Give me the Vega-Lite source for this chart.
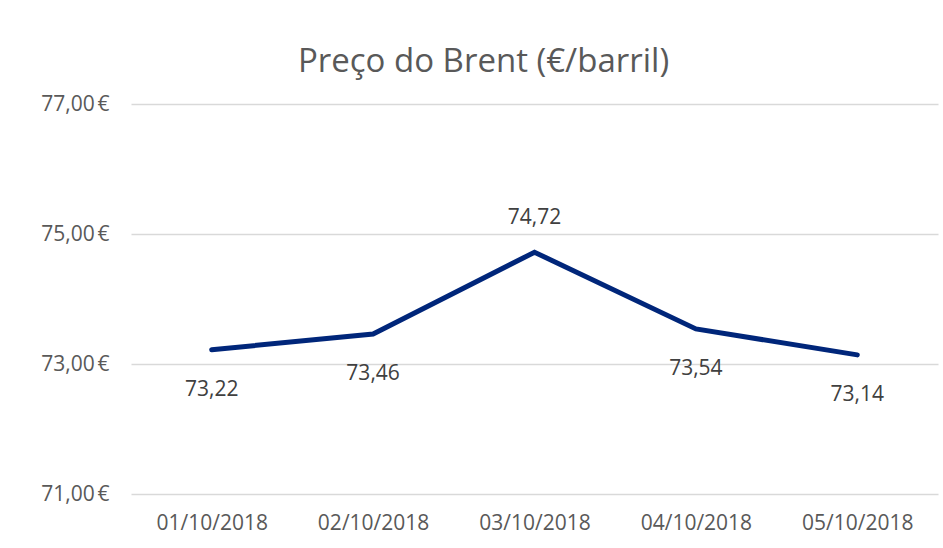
{
  "$schema": "https://vega.github.io/schema/vega-lite/v6.json",
  "autosize": "none",
  "width": 807,
  "height": 390,
  "padding": {"left": 131, "top": 104, "right": 5, "bottom": 54},
  "background": "white",
  "title": {
    "text": "Preço do Brent (€/barril)",
    "font": "Open Sans",
    "fontSize": 33,
    "fontWeight": "normal",
    "color": "#595959",
    "anchor": "middle",
    "dx": -51,
    "offset": 14
  },
  "data": {
    "values": [
      {"data": "01/10/2018", "preco": 73.22, "pos": "below"},
      {"data": "02/10/2018", "preco": 73.46, "pos": "below"},
      {"data": "03/10/2018", "preco": 74.72, "pos": "above"},
      {"data": "04/10/2018", "preco": 73.54, "pos": "below"},
      {"data": "05/10/2018", "preco": 73.14, "pos": "below"}
    ]
  },
  "encoding": {
    "x": {
      "field": "data",
      "type": "ordinal",
      "sort": null,
      "scale": {"type": "point", "padding": 0.5},
      "axis": {
        "title": null,
        "labelAngle": 0,
        "domain": false,
        "ticks": false,
        "grid": false,
        "labelFont": "Open Sans",
        "labelFontSize": 21,
        "labelColor": "#595959",
        "labelPadding": 18
      }
    },
    "y": {
      "field": "preco",
      "type": "quantitative",
      "scale": {"domain": [71, 77], "nice": false, "zero": false},
      "axis": {
        "title": null,
        "values": [71, 73, 75, 77],
        "labelExpr": "replace(format(datum.value, '.2f'), '.', ',') + '\u202f€'",
        "domain": false,
        "ticks": false,
        "gridColor": "#d9d9d9",
        "gridWidth": 1.5,
        "labelFont": "Open Sans",
        "labelFontSize": 21,
        "labelColor": "#595959",
        "labelPadding": 22
      }
    }
  },
  "layer": [
    {
      "mark": {"type": "line", "color": "#00267a", "strokeWidth": 5, "strokeCap": "round", "strokeJoin": "miter"}
    },
    {
      "transform": [{"filter": "datum.pos == 'below'"}],
      "mark": {"type": "text", "font": "Open Sans", "fontSize": 21, "color": "#404040", "baseline": "middle", "dy": 40},
      "encoding": {"text": {"field": "preco", "type": "quantitative", "format": ".2f", "formatType": "number"}}
    },
    {
      "transform": [{"filter": "datum.pos == 'above'"}],
      "mark": {"type": "text", "font": "Open Sans", "fontSize": 21, "color": "#404040", "baseline": "middle", "dy": -34},
      "encoding": {"text": {"field": "preco", "type": "quantitative", "format": ".2f", "formatType": "number"}}
    }
  ],
  "config": {"view": {"stroke": null}, "locale": {"number": {"decimal": ",", "thousands": ".", "grouping": [3], "currency": ["", " €"]}}}
}
